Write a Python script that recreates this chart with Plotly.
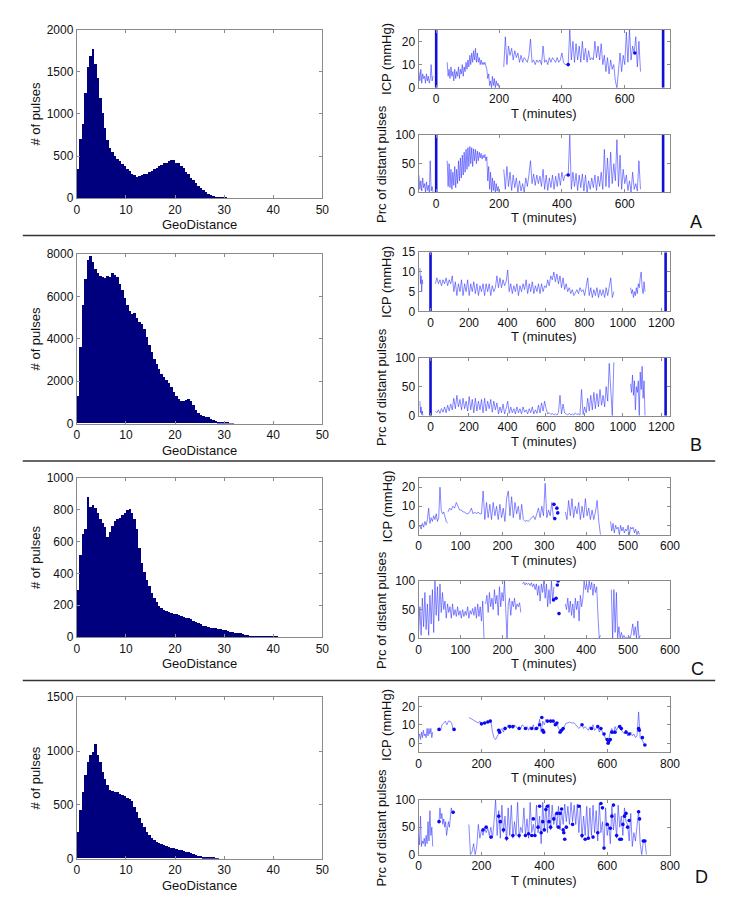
import plotly.graph_objects as go

W, H = 729, 900
FONT = "Liberation Sans, Arial, sans-serif"

# ---------------- histogram data (bin width 0.5, GeoDistance) ----------------
BIN_W = 0.5
HIST_A = [350, 700, 880, 1250, 1560, 1690, 1780, 1600, 1430, 1190, 1010, 830, 690, 600, 545, 500,
          470, 445, 405, 380, 350, 325, 290, 275, 255, 270, 275, 290, 295, 315, 330, 350,
          360, 385, 395, 420, 415, 445, 455, 450, 425, 415, 385, 355, 315, 285, 245, 215,
          180, 150, 120, 95, 75, 55, 40, 28, 20, 14, 10, 7, 5, 3, 1]
HIST_B = [1300, 3600, 5600, 6800, 7700, 7900, 7600, 7300, 7100, 6950, 6900, 6850, 6950, 6900, 7100, 7000,
          6900, 6600, 6300, 5900, 5600, 5300, 5150, 5200, 5000, 4800, 4700, 4450, 4100, 3700, 3350, 3050,
          2800, 2550, 2350, 2200, 2050, 1900, 1700, 1500, 1300, 1150, 1050, 1050, 1100, 1150, 1050, 850,
          650, 500, 400, 350, 320, 280, 220, 150, 100, 70, 50, 35, 25, 20, 15, 8]
HIST_C = [300, 520, 650, 680, 880, 820, 830, 810, 780, 740, 720, 690, 630, 660, 700, 730,
          740, 750, 770, 780, 800, 805, 780, 740, 680, 560, 470, 410, 360, 320, 280, 250,
          220, 200, 185, 175, 165, 160, 155, 150, 145, 140, 135, 130, 125, 120, 115, 105,
          95, 90, 85, 75, 72, 65, 62, 60, 58, 54, 52, 48, 45, 40, 35, 32,
          30, 27, 25, 20, 18, 14, 10, 8, 8, 7, 7, 6, 6, 6, 5, 6, 5, 4, 3, 1]
HIST_D = [250, 450, 620, 780, 900, 960, 990, 1060, 960, 900, 800, 740, 680, 640, 630, 615,
          620, 600, 585, 580, 565, 555, 530, 480, 430, 380, 330, 290, 245, 215, 190, 170,
          155, 140, 130, 122, 115, 108, 100, 94, 88, 82, 76, 70, 62, 56, 48, 40,
          33, 26, 20, 16, 12, 9, 7, 5, 4, 2]
HIST_YMAX = [2000, 8000, 1000, 1500]
HIST_YTICK = [500, 2000, 200, 500]

# ---------------- time series: (start minute, step, values) segments ----------------
ICP_A = [(-55, 3, [7, 3, 8, 2, 6, 4, 5, 2, 6, 3, 5, 2, 4, 10, 3, 5]),
         (35, 3, [11, 5, 8, 4, 9, 5, 7, 3, 8, 4, 7, 5, 9, 4, 8, 6, 10, 5, 9, 7, 11, 8, 12, 9, 14, 10, 15, 11,
                  16, 12, 17, 11, 15, 11, 13, 10, 12, 10, 11, 10, 11, 9, 8, 4, 6, 1, 3, 0, 5, 1, 4, 0, 3, 1, 2, 0]),
         (215, 5, [9, 22, 10, 18, 14, 17, 12, 16, 13, 15, 11, 14, 11, 13, 12, 11, 14, 21, 11, 12, 10, 12, 11, 12,
                   10, 18, 11, 12, 10, 13, 11, 13, 12, 11, 13, 11, 12, 15, 11, 10, 10, 10, 25, 12, 20, 11, 19, 12,
                   18, 11, 20, 12, 17, 11, 16, 12, 13, 12, 20, 13, 18, 12, 19, 10, 14, 7, 13, 6, 12, 8, 10, 3,
                   0, 8, 15, 7, 14, 10, 24, 11, 25, 12, 18, 15, 22, 9, 20, 7])]
PRC_A = [(-55, 3, [30, 5, 20, 2, 25, 8, 15, 0, 18, 3, 12, 0, 55, 2, 10, 0]),
         (35, 3, [55, 10, 50, 8, 40, 5, 35, 12, 45, 8, 40, 15, 55, 20, 60, 25, 65, 30, 70, 35, 75, 40, 78, 45,
                  80, 50, 78, 45, 76, 55, 75, 50, 72, 55, 70, 60, 68, 58, 65, 60, 66, 55, 62, 20, 45, 5, 35, 0,
                  25, 3, 20, 0, 15, 2, 10, 0]),
         (215, 5, [40, 5, 45, 10, 35, 3, 30, 8, 25, 0, 20, 2, 15, 0, 25, 10, 30, 55, 15, 32, 12, 30, 15, 28,
                   10, 40, 5, 30, 3, 25, 8, 30, 5, 28, 10, 33, 12, 35, 20, 30, 30, 30, 100, 5, 35, 10, 33, 3,
                   30, 8, 32, 2, 30, 0, 20, 5, 25, 8, 30, 3, 28, 10, 35, 5, 75, 10, 60, 8, 70, 15, 50, 20,
                   92, 10, 65, 5, 40, 15, 30, 3, 20, 0, 35, 5, 15, 2, 55, 5])]
DOTS_ICP_A = [(420, 10), (632, 15)]
DOTS_PRC_A = [(420, 30)]
VLINES_A = [0, 722]

ICP_B = [(-55, 3, [11, 7, 9, 5, 8, 7]),
         (25, 8, [7, 8.5, 7, 8, 6.5, 8, 7, 8.5, 6.5, 8, 7, 9, 5, 7.5, 4, 7, 5, 8, 4, 7, 5, 8, 4, 7, 5, 7.5,
                  4.5, 7, 4, 6.5, 5, 7, 4, 7, 5, 7, 4, 6.5, 5, 6, 9, 6, 8.5, 6, 8, 6.5, 7.5, 10.5, 5, 7, 4.5,
                  6.5, 5, 7, 4, 6.5, 5, 7, 5.5, 8, 4.5, 7, 5, 7.5, 4.5, 6.5, 5, 7, 4.5, 7, 5, 6.5, 6, 8, 6.5,
                  9, 8, 10, 7.5, 9.5, 7, 9, 6, 8.5, 5.5, 7, 5, 6, 4.5, 5.5, 4, 5, 5.5, 4.5, 6, 5, 5.5, 4, 6,
                  8.5, 4, 6, 3.5, 5.5, 4, 6, 3.5, 5.5, 4, 5.5, 3.5, 6, 4, 6.5, 8.5, 3.5, 5]),
         (1040, 5, [6, 4.5, 5.5, 3.5, 5, 4, 6, 4.5, 7, 6, 8.5, 10, 6, 4.5, 7.5, 5])]
PRC_B = [(-55, 3, [25, 5, 15, 2, 8, 0]),
         (25, 8, [8, 5, 10, 4, 12, 6, 15, 5, 18, 8, 20, 10, 30, 12, 35, 15, 28, 10, 30, 12, 25, 8, 33, 10,
                  28, 5, 30, 8, 25, 10, 28, 5, 30, 8, 25, 12, 28, 6, 25, 10, 22, 3, 15, 5, 20, 3, 12, 25,
                  4, 15, 5, 12, 3, 15, 5, 12, 3, 15, 6, 10, 3, 12, 5, 15, 3, 10, 4, 18, 5, 22, 8, 25,
                  12, 3, 5, 2, 4, 1, 3, 1, 5, 35, 3, 20, 5, 3, 1, 4, 1, 3, 1, 5, 2, 3, 1, 45,
                  2, 15, 5, 30, 8, 35, 10, 40, 12, 38, 15, 45, 18, 35, 15, 50, 25, 90, 40, 0, 92]),
         (1040, 5, [55, 40, 70, 35, 60, 10, 50, 40, 60, 0, 75, 45, 85, 30, 60, 0])]
DOTS_ICP_B = []
DOTS_PRC_B = []
VLINES_B = [0, 1222]

ICP_C = [(0, 3, [-1, 0, -2, 1, -1, 2, 0, 3, 9, 1, 4, 2, 5, 3, 6, 2, 4, 20, 8, 6, 7, 4, 2, 1]),
         (70, 4, [7, 9, 8, 10, 9, 12, 10, 8, 8, 7, 7, 6, 6, 7, 9, 6, 7, 6, 7, 6, 6, 18, 3, 12, 4, 11, 3,
                  12, 5, 10, 3, 11, 4, 9, 2, 14, 18, 5, 15, 4, 12, 6, 10, 3, 11, 3, 2, 2.5, 2, 3, 4, 5, 3,
                  6, 9, 4, 10, 5, 22, 4, 8, 5, 12, 3]),
         (350, 4, [7, 3, 13, 5, 14, 4, 10, 6, 12, 3, 10, 4, 14, 5, 9, 3, 8, 3, 7, 13, 2, -5]),
         (458, 3, [2, -3, 1, -4, 0, -2, -1, -5, 0, -3, -1, -4, -2, -3, 0, -5, -1, -2, -1, -4, -2, -5, -3, -5])]
PRC_C = [(0, 3, [10, 55, 5, 70, 20, 80, 15, 60, 5, 75, 25, 85, 10, 100, 40, 90, 30, 95, 45, 80, 50, 65, 35,
                 60, 45, 55, 35, 60, 40, 50, 38, 55, 40, 48, 35, 50, 38, 47, 40, 55, 35, 48, 42, 52, 40, 55,
                 35, 60, 38, 55, 30, 65, 0]),
         (160, 3, [60, 75, 45, 80, 55, 70, 50, 85, 60, 75, 40, 90, 55, 80, 65, 100, 50, 0, 60, 70, 40, 65,
                   55, 70, 50, 60, 55, 62, 45]),
         (248, 3, [95, 98, 93, 97, 94, 96, 92, 97, 90, 95, 85, 95, 75, 92, 65, 95, 80, 100, 70, 95, 55, 85,
                   60, 100, 65, 90]),
         (350, 3, [60, 50, 70, 45, 65, 40, 60, 35, 70, 50, 65, 30, 75, 55, 70, 100, 85, 95, 80, 100, 85, 98,
                   75, 95, 80, 90, 40, 0, 5]),
         (460, 3, [85, 0, 85, 10, 80, 0, 20, 0, 10, 0, 5, 0, 2, 0, 3, 0, 10, 25, 5, 20, 0, 30, 0, 5])]
DOTS_ICP_C = [(323, 11), (325, 3.5), (330, 9), (332, 6.5)]
DOTS_PRC_C = [(322, 67), (328, 70), (331, 93), (333, 100), (335, 43)]
VLINES_C = []

ICP_D = [(0, 3, [3, 5, 2, 6, 3, 7, 4, 5, 3, 8, 4, 8, 5, 8, 3, 6]),
         (65, 5, [8, 7, 10, 11, 12, 10, 12, 12, 11, 7]),
         (160, 5, [14, 13.5, 13, 12.5, 12, 11.5, 11, 12, 10, 11, 10.5, 11, 12, 11.5, 12, 6, 3, 2, 4, 5, 7, 8,
                   6, 9, 8, 10, 8, 9, 8, 10, 9, 8, 9, 8, 10, 9, 8, 9, 7, 9, 8, 10, 7, 9, 8, 13, 6, 12, 10,
                   13, 11, 12, 11, 12, 12, 10, 11, 8, 7, 6, 8, 10, 11, 11, 11.5, 11, 11, 11, 10, 9, 8, 9, 10,
                   8, 9, 8, 7, 9, 8, 10, 7, 8, 9, 6, 8, 6, 4, 2, 1, 2, 6, 8, 5, 9, 7, 9, 8, 7, 6, 5, 7, 4,
                   5, 6, 4, 5, 3, 4, 17, 3, 2, 0, -1])]
PRC_D = [(0, 3, [40, 18, 70, 15, 25, 20, 30, 15, 35, 20, 60, 25, 80, 35, 50, 15]),
         (65, 3, [60, 85, 65, 75, 55, 65, 50, 60, 35, 55, 60, 50, 70, 85, 75, 80]),
         (160, 5, [55, 0, 5, 20, 0, 15, 55, 30, 45, 35, 50, 40, 48, 35, 50, 30, 60, 100, 35, 80, 30, 90, 40,
                   70, 25, 85, 35, 90, 30, 60, 35, 95, 30, 50, 40, 85, 35, 65, 30, 95, 40, 55, 35, 90, 40, 70,
                   20, 95, 45, 88, 40, 92, 45, 90, 55, 75, 50, 88, 45, 80, 55, 92, 60, 88, 55, 95, 60, 90, 55,
                   92, 40, 90, 30, 70, 35, 88, 28, 85, 35, 90, 40, 80, 25, 92, 40, 60, 15, 85, 35, 55, 20, 88,
                   45, 75, 30, 90, 50, 70, 35, 85, 60, 55, 25, 75, 15, 40, 25, 50, 80, 20, 0, 25, 25, 0])]
DOTS_ICP_D = [(65, 7.5), (113, 7.5), (200, 10.5), (210, 11), (220, 11.5), (228, 12), (255, 7), (258, 6),
              (275, 8), (290, 9), (300, 9), (320, 8), (340, 8), (360, 8), (375, 8), (385, 10), (392, 14),
              (395, 7), (398, 6), (410, 12), (420, 12), (428, 12), (435, 10), (440, 11), (450, 6), (455, 7),
              (460, 8), (520, 10), (550, 8), (570, 9), (580, 8), (590, 5), (600, 2), (603, 0), (605, 1),
              (610, 2), (615, 6), (625, 6), (640, 9), (645, 8), (660, 6), (670, 5), (700, 8), (702, 7),
              (712, 3), (720, -1)]
DOTS_PRC_D = [(65, 60), (110, 77), (205, 45), (215, 50), (230, 32), (255, 70), (260, 60), (270, 45),
              (280, 30), (300, 35), (320, 35), (340, 35), (350, 38), (360, 35), (365, 65), (370, 35),
              (380, 50), (385, 88), (390, 40), (395, 60), (400, 45), (405, 82), (410, 88), (415, 60),
              (420, 50), (430, 65), (440, 75), (445, 50), (450, 75), (455, 83), (460, 45), (462, 40),
              (465, 28), (470, 50), (490, 55), (510, 88), (520, 35), (530, 28), (540, 30), (555, 32),
              (570, 40), (580, 93), (585, 85), (590, 12), (600, 55), (610, 48), (615, 70), (620, 90),
              (630, 35), (640, 28), (645, 28), (650, 55), (655, 70), (660, 75), (665, 50), (670, 62),
              (700, 78), (703, 65), (715, 25), (720, 25)]
VLINES_D = []

T_RANGES = [[-56, 744], [-62, 1245], [0, 600], [0, 800]]
T_TICKS = [[0, 200, 400, 600], [0, 200, 400, 600, 800, 1000, 1200],
           [0, 100, 200, 300, 400, 500, 600], [0, 200, 400, 600, 800]]
ICP_RANGES = [[0, 25], [0, 15], [-5, 25], [-5, 25]]
ICP_TICKS = [[0, 10, 20], [0, 5, 10, 15], [0, 10, 20], [0, 10, 20]]
PRC_RANGE = [0, 100]
PRC_TICKS = [0, 50, 100]
PANEL_LABELS = ["A", "B", "C", "D"]

# ---------------- layout geometry (pixels) ----------------
HIST_X = (67, 317)
RIGHT_X = (415, 671)
HIST_Y = [(15, 186), (243, 415), (470, 632), (693, 857)]
ICP_Y = [(15, 74), (241, 301), (470, 528), (693, 749)]
PRC_Y = [(122, 180), (348, 407), (575, 633), (797, 853)]
SEP_Y = [224, 453, 676]
LETTER_POS = [(697, 210), (697, 437), (699, 664), (703, 876)]


def xdom(a, b):
    return [a / W, b / W]


def ydom(top, bot):
    return [1 - bot / H, 1 - top / H]


def series_xy(segs):
    xs, ys = [], []
    for start, step, vals in segs:
        for i, v in enumerate(vals):
            xs.append(start + step * i)
            ys.append(v)
        xs.append(None)
        ys.append(None)
    return xs, ys


fig = go.Figure()
layout = dict(width=W, height=H, margin=dict(l=0, r=0, t=0, b=0), paper_bgcolor="white",
              plot_bgcolor="white", showlegend=False, bargap=0,
              font=dict(family=FONT, size=12, color="#111"))

axis_style = dict(showline=True, mirror="ticks", linecolor="#8a8a8a", linewidth=1, ticks="inside",
                  ticklen=3, tickcolor="#8a8a8a", showgrid=False, zeroline=False,
                  tickfont=dict(family=FONT, size=12, color="#111"))

annotations = []
shapes = []

def ann(text, px, py, size=13, angle=0, xanchor="center"):
    annotations.append(dict(text=text, x=px / W, y=1 - py / H, xref="paper", yref="paper",
                            showarrow=False, textangle=angle, xanchor=xanchor, yanchor="middle",
                            font=dict(family=FONT, size=size, color="#111")))

hists = [HIST_A, HIST_B, HIST_C, HIST_D]
icps = [ICP_A, ICP_B, ICP_C, ICP_D]
prcs = [PRC_A, PRC_B, PRC_C, PRC_D]
dots_icp = [DOTS_ICP_A, DOTS_ICP_B, DOTS_ICP_C, DOTS_ICP_D]
dots_prc = [DOTS_PRC_A, DOTS_PRC_B, DOTS_PRC_C, DOTS_PRC_D]
vlines = [VLINES_A, VLINES_B, VLINES_C, VLINES_D]

LINE_COL = "rgba(55,55,255,0.75)"
DOT_COL = "#0a0af0"
THICK_COL = "#1010d8"

ax = 0
for r in range(4):
    # ---- histogram ----
    ax += 1
    xa, ya = ("x" if ax == 1 else f"x{ax}"), ("y" if ax == 1 else f"y{ax}")
    counts = hists[r]
    centers = [BIN_W / 2 + BIN_W * i for i in range(len(counts))]
    fig.add_trace(go.Bar(x=centers, y=counts, width=BIN_W, xaxis=xa, yaxis=ya,
                         marker=dict(color="#00007f", line=dict(width=0))))
    layout["xaxis" if ax == 1 else f"xaxis{ax}"] = dict(axis_style, domain=xdom(*HIST_X), anchor=ya,
                                                         range=[0, 50], tickvals=[0, 10, 20, 30, 40, 50])
    layout["yaxis" if ax == 1 else f"yaxis{ax}"] = dict(axis_style, domain=ydom(*HIST_Y[r]), anchor=xa,
                                                         range=[0, HIST_YMAX[r]], dtick=HIST_YTICK[r])
    ann("GeoDistance", (HIST_X[0] + HIST_X[1]) / 2, HIST_Y[r][1] + 27)
    ann("# of pulses", 25, (HIST_Y[r][0] + HIST_Y[r][1]) / 2, angle=-90)

    # ---- ICP and Prc ----
    for kind, segs, dots, ys, yr, yt, lab, labx in [
            ("icp", icps[r], dots_icp[r], ICP_Y[r], ICP_RANGES[r], ICP_TICKS[r], "ICP (mmHg)", 383),
            ("prc", prcs[r], dots_prc[r], PRC_Y[r], PRC_RANGE, PRC_TICKS, "Prc of distant pulses", 377)]:
        ax += 1
        xa, ya = f"x{ax}", f"y{ax}"
        xs, yv = series_xy(segs)
        fig.add_trace(go.Scatter(x=xs, y=yv, mode="lines", xaxis=xa, yaxis=ya, connectgaps=False,
                                 line=dict(color=LINE_COL, width=0.8), hoverinfo="skip"))
        if dots:
            fig.add_trace(go.Scatter(x=[d[0] for d in dots], y=[d[1] for d in dots], mode="markers",
                                     xaxis=xa, yaxis=ya,
                                     marker=dict(color=DOT_COL, size=3.6, line=dict(width=0))))
        for vt in vlines[r]:
            fig.add_trace(go.Scatter(x=[vt, vt], y=[yr[0], yr[1]], mode="lines", xaxis=xa, yaxis=ya,
                                     line=dict(color=THICK_COL, width=2.6)))
        layout[f"xaxis{ax}"] = dict(axis_style, domain=xdom(*RIGHT_X), anchor=ya,
                                    range=T_RANGES[r], tickvals=T_TICKS[r])
        layout[f"yaxis{ax}"] = dict(axis_style, domain=ydom(*ys), anchor=xa, range=yr, tickvals=yt)
        ann("T (minutes)", (RIGHT_X[0] + RIGHT_X[1]) / 2, ys[1] + 26)
        ann(lab, labx, (ys[0] + ys[1]) / 2, angle=-90)

    ann(PANEL_LABELS[r], LETTER_POS[r][0], LETTER_POS[r][1], size=18)

for sy in SEP_Y:
    shapes.append(dict(type="line", xref="paper", yref="paper", x0=12 / W, x1=717 / W,
                       y0=1 - sy / H, y1=1 - sy / H, line=dict(color="#333", width=1.5)))

layout["annotations"] = annotations
layout["shapes"] = shapes
fig.update_layout(**layout)
fig.write_html("out.html")
